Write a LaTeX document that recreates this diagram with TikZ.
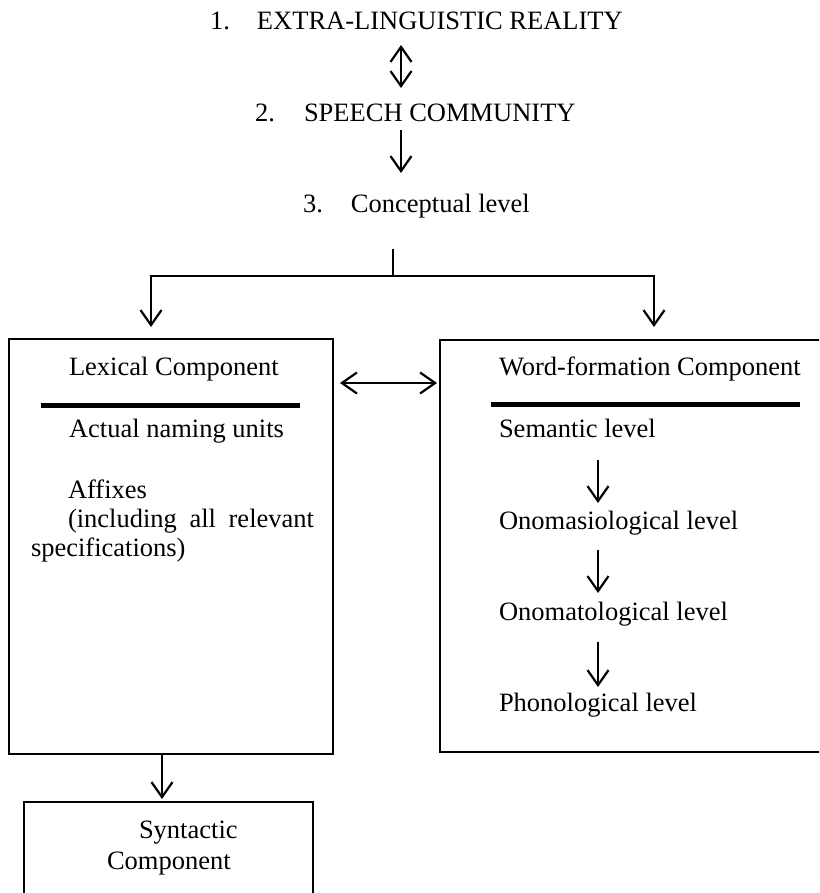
\documentclass[tikz,border=0pt]{standalone}
\usepackage{fontspec}
\setmainfont{Liberation Serif}
\usetikzlibrary{arrows.meta}
\begin{document}
\begin{tikzpicture}[x=1pt,y=-1pt,
  every node/.style={inner sep=0pt, outer sep=0pt},
  txt/.style={anchor=base west, text height=18pt, text depth=6pt, font=\fontsize{26.5}{30}\selectfont},
  boxn/.style={draw, line width=2.2pt, anchor=north west},
  conn/.style={line width=2.2pt},
  arr/.style={line width=2.2pt, -{Straight Barb[length=15pt,width=21pt]}},
  darr/.style={line width=2.2pt, {Straight Barb[length=15pt,width=21pt]}-{Straight Barb[length=15pt,width=21pt]}},
  sep/.style={line width=5pt}]
\useasboundingbox (0,0) rectangle (819,893);
\clip (0,0) rectangle (819,893);
% top chain
\node[txt] (t1) at (210,30) {\makebox[47pt][l]{1.}EXTRA-LINGUISTIC REALITY};
\node[txt] (t2) at (255,122) {\makebox[49pt][l]{2.}SPEECH COMMUNITY};
\node[txt] (t3) at (303,213) {\makebox[48pt][l]{3.}Conceptual level};
\coordinate (ax) at (401,0);
\draw[darr, shorten <=9pt, shorten >=16pt] (t1.south -| ax) -- (t2.north -| ax);
\draw[arr, shorten <=2pt, shorten >=22pt] (t2.south -| ax) -- (t3.north -| ax);
% boxes
\node[boxn, minimum width=324pt, minimum height=415pt] (lex) at (9,339) {};
\node[boxn, minimum width=428pt, minimum height=412pt] (wf) at (440,340) {};
\node[boxn, minimum width=289pt, minimum height=160pt] (syn) at (24,802) {};
% branching
\coordinate (stem) at (393,249);
\coordinate (split) at (393,276);
\coordinate (jl) at (151,276);
\draw[conn] (stem) -- (split);
\draw[arr, shorten >=12pt] (split) -- (jl) -- (jl |- lex.north);
\draw[arr, shorten >=13pt] (split) -| (wf.north);
% lexical <-> word-formation
\coordinate (hy) at (0,383);
\draw[darr, shorten <=7pt, shorten >=3pt] (lex.east |- hy) -- (wf.west |- hy);
% lexical contents
\node[txt] (lc) at (69,375) {Lexical Component};
\coordinate (ls1) at (41,405);
\coordinate (ls2) at (300,405);
\draw[sep] (ls1) -- (ls2);
\node[txt] (lanu) at (69,437) {Actual naming units};
\node[txt] (laf) at (68,498) {Affixes};
\node[txt] (linc) at (68,527) {\makebox[246pt][s]{(including all relevant}};
\node[txt] (lspec) at (31,556) {specifications)};
% word-formation contents
\node[txt] (wc) at (499,375) {Word-formation Component};
\coordinate (ws1) at (491,404);
\coordinate (ws2) at (800,404);
\draw[sep] (ws1) -- (ws2);
\node[txt] (sem) at (499,437) {Semantic level};
\node[txt] (ono) at (499,529) {Onomasiological level};
\node[txt] (onm) at (499,620) {Onomatological level};
\node[txt] (pho) at (499,711) {Phonological level};
\coordinate (wx) at (598,0);
\draw[arr, shorten <=17pt, shorten >=8pt] (sem.south -| wx) -- (ono.north -| wx);
\draw[arr, shorten <=15pt, shorten >=9pt] (ono.south -| wx) -- (onm.north -| wx);
\draw[arr, shorten <=16pt, shorten >=6pt] (onm.south -| wx) -- (pho.north -| wx);
% lexical -> syntactic
\coordinate (sx) at (162,0);
\draw[arr, shorten >=3pt] (lex.south -| sx) -- (syn.north -| sx);
\node[txt] (syn1) at (139,838) {Syntactic};
\node[txt] (syn2) at (107,869) {Component};
\end{tikzpicture}
\end{document}
